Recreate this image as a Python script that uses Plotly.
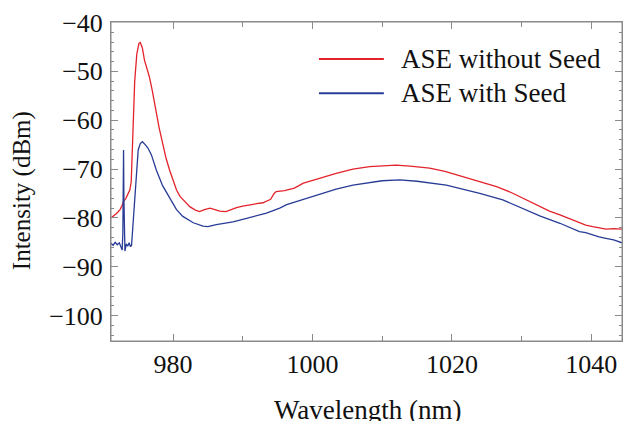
"""ASE spectra with and without seed."""

import plotly.graph_objects as go

# Theme
C_RED = "#e3232b"
C_BLUE = "#283c96"
C_FRAME = "#8a8a8a"
C_TEXT = "#111111"
FONT = "Liberation Serif"

# ASE without seed (wavelength nm, intensity dBm)
wl_noseed = [
    971.1, 971.5, 971.8, 972.1, 972.4, 972.7, 972.9, 973.2, 973.4, 973.6,
    973.8, 974.0, 974.2, 974.5, 974.8, 975.1, 975.3, 975.6, 975.9, 976.3,
    976.6, 977.0, 977.5, 978.0, 978.5, 979.0, 979.5, 980.0, 980.5, 981.0,
    981.9, 982.4, 983.2, 983.8, 984.5, 985.3, 986.0, 986.7, 987.6, 988.4,
    989.1, 990.0, 991.0, 992.0, 992.9, 993.6, 994.0, 994.5, 994.8, 996.0,
    997.4, 998.7, 1000.0, 1001.0, 1003.4, 1005.8, 1008.2, 1010.0, 1012.0, 1014.0,
    1016.8, 1019.0, 1021.6, 1024.0, 1026.4, 1028.5, 1030.7, 1032.6, 1034.0, 1035.5,
    1037.0, 1038.3, 1039.2, 1040.2, 1041.1, 1042.1, 1043.2, 1044.4,
]
db_noseed = [
    -80.0, -79.6, -79.2, -78.8, -78.3, -77.4, -76.6, -76.1, -75.6, -75.0,
    -74.3, -72.6, -65.0, -52.0, -46.5, -44.3, -44.1, -45.2, -47.7, -49.5,
    -51.1, -53.8, -57.9, -61.5, -64.7, -67.8, -70.2, -72.4, -74.3, -75.6,
    -77.0, -77.7, -78.4, -78.7, -78.3, -78.0, -78.3, -78.6, -78.7, -78.2,
    -77.9, -77.6, -77.3, -77.1, -76.9, -76.4, -76.2, -75.0, -74.6, -74.4,
    -73.9, -72.9, -72.3, -71.9, -70.9, -70.0, -69.5, -69.3, -69.2, -69.4,
    -69.8, -70.5, -71.6, -72.5, -73.6, -74.8, -76.3, -77.7, -78.6, -79.4,
    -80.3, -81.0, -81.5, -81.8, -82.1, -82.3, -82.2, -82.3,
]

# ASE with seed
wl_seed = [
    971.1, 971.4, 971.7, 972.0, 972.3, 972.5, 972.7, 972.8, 972.85, 972.9,
    972.95, 973.0, 973.1, 973.3, 973.5, 973.7, 973.9, 974.05, 974.3, 974.5,
    974.8, 975.0, 975.3, 975.6, 976.0, 976.4, 976.9, 977.6, 978.5, 979.5,
    980.0, 980.5, 981.4, 982.9, 984.3, 985.0, 986.2, 987.5, 988.6, 990.0,
    991.0, 993.4, 995.3, 996.3, 998.7, 1001.0, 1003.4, 1005.8, 1008.2, 1010.0,
    1012.5, 1015.0, 1019.2, 1022.0, 1024.0, 1027.3, 1030.0, 1032.6, 1035.5, 1037.0,
    1038.3, 1039.2, 1040.2, 1041.1, 1042.1, 1043.2, 1044.4,
]
db_seed = [
    -85.2, -85.6, -85.0, -85.5, -85.1, -85.9, -86.6, -83.2, -75.0, -66.1,
    -76.0, -84.0, -86.8, -85.3, -85.8, -85.1, -85.9, -85.6, -80.0, -76.3,
    -69.5, -66.1, -64.8, -64.4, -65.0, -65.7, -67.1, -70.2, -73.4, -76.0,
    -77.0, -78.3, -79.7, -81.0, -81.7, -81.8, -81.4, -81.1, -80.8, -80.3,
    -79.9, -79.0, -78.0, -77.3, -76.2, -75.1, -74.1, -73.3, -72.7, -72.4,
    -72.2, -72.5, -73.3, -74.2, -75.0, -76.3, -78.0, -79.6, -81.1, -82.0,
    -82.8, -83.0, -83.5, -83.9, -84.2, -84.5, -85.1,
]

X_RANGE = [971.1, 1044.4]
Y_RANGE = [-105.2, -39.9]

series = [
    ("ASE without Seed", wl_noseed, db_noseed, C_RED),
    ("ASE with Seed", wl_seed, db_seed, C_BLUE),
]

fig = go.Figure()
for name, xs, ys, color in series:
    fig.add_trace(go.Scatter(
        x=xs, y=ys, mode="lines", name=name, showlegend=False,
        line=dict(color=color, width=1.3),
    ))

# empty trace so the top/right tick axes get drawn
fig.add_trace(go.Scatter(x=[], y=[], xaxis="x2", yaxis="y2",
                         showlegend=False, hoverinfo="skip"))

# Hand-placed legend (Mathematica-style: long sample lines, large serif text)
for i, (name, _, _, color) in enumerate(series):
    ly = 0.884 - i * 0.107
    fig.add_shape(type="line", xref="paper", yref="paper",
                  x0=0.407, x1=0.534, y0=ly, y1=ly,
                  line=dict(color=color, width=2))
    fig.add_annotation(xref="paper", yref="paper", x=0.564, y=ly,
                       xanchor="left", yanchor="middle", showarrow=False,
                       text=name, font=dict(size=27, family=FONT, color=C_TEXT))

# frame
fig.add_shape(type="rect", xref="paper", yref="paper", x0=0, x1=1, y0=0, y1=1,
              line=dict(color=C_FRAME, width=1), layer="above")

# axis titles
fig.add_annotation(xref="paper", yref="paper", x=0.503, y=-0.216,
                   xanchor="center", yanchor="middle", showarrow=False,
                   text="Wavelength (nm)", font=dict(size=27, family=FONT, color=C_TEXT))
fig.add_annotation(xref="paper", yref="paper", x=-0.174, y=0.47,
                   xanchor="center", yanchor="middle", showarrow=False, textangle=-90,
                   text="Intensity (dBm)", font=dict(size=25, family=FONT, color=C_TEXT))

axis_common = dict(
    showline=True, linecolor=C_FRAME, linewidth=1,
    ticks="inside", tickcolor=C_FRAME, ticklen=7, tickwidth=1,
    showgrid=False, zeroline=False, automargin=False,
    tickfont=dict(size=26, family=FONT, color=C_TEXT),
)

fig.update_layout(
    width=627, height=421,
    paper_bgcolor="white", plot_bgcolor="white",
    margin=dict(l=111, r=5, t=22, b=80),
    font=dict(family=FONT, color=C_TEXT, size=26),
    xaxis=dict(
        **axis_common, range=X_RANGE, dtick=20, tick0=0,
        minor=dict(dtick=10, ticks="inside", ticklen=5, tickcolor=C_FRAME),
        ticklabelstandoff=0,
    ),
    yaxis=dict(
        **axis_common, range=Y_RANGE, dtick=10,
        minor=dict(dtick=2, ticks="inside", ticklen=3, tickcolor=C_FRAME),
        ticklabelstandoff=2,
    ),
    # top / right frame with ticks
    xaxis2=dict(
        **axis_common, range=X_RANGE, dtick=20, tick0=0, overlaying="x",
        side="top", anchor="y2", showticklabels=False,
        minor=dict(dtick=10, ticks="inside", ticklen=5, tickcolor=C_FRAME),
    ),
    yaxis2=dict(
        **axis_common, range=Y_RANGE, dtick=10, overlaying="y",
        side="right", anchor="x2", showticklabels=False,
        minor=dict(dtick=2, ticks="inside", ticklen=3, tickcolor=C_FRAME),
    ),
    showlegend=False,
)

# page body margin would shift the figure by 8px
fig.write_html("out.html", config={"displayModeBar": False},
               post_script="document.body.style.margin='0';")
